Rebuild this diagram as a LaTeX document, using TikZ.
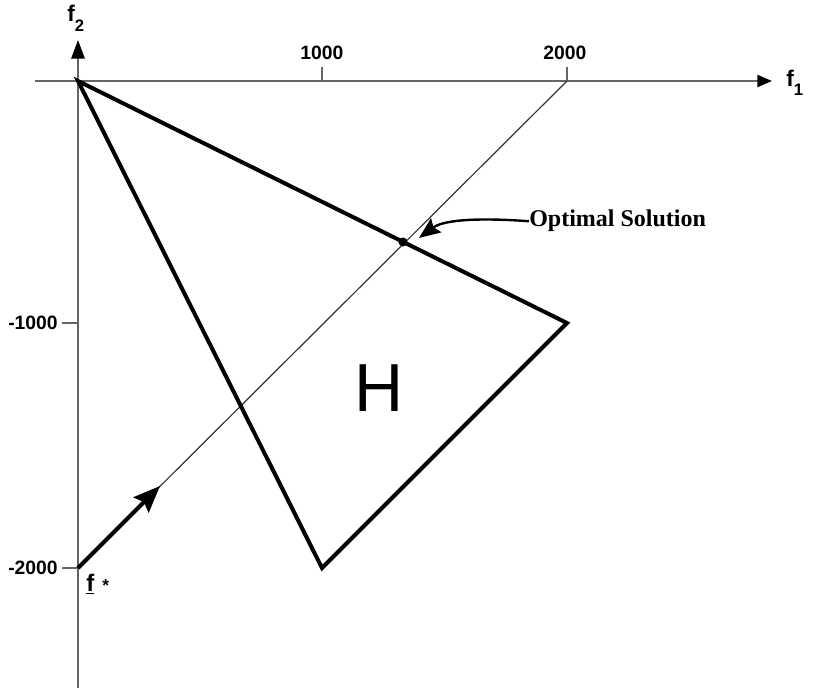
\documentclass[tikz,border=0pt]{standalone}
\usepackage{fontspec}
\setmainfont{Liberation Serif}
\newfontfamily\hv{Liberation Sans}
\usetikzlibrary{arrows.meta}
\begin{document}
\begin{tikzpicture}[x=0.75pt,y=-0.75pt,
  axis/.style={draw=black!60, line width=1.6pt},
  tickmark/.style={draw=black!60, line width=1.4pt},
  edge/.style={draw=black, line width=3pt, line join=miter},
  guide/.style={draw=black!80, line width=0.9pt},
  lab/.style={font=\hv\bfseries\fontsize{14.5}{16}\selectfont, inner sep=0pt},
  sublab/.style={font=\hv\bfseries\fontsize{17}{18}\selectfont, inner sep=0pt}]
\useasboundingbox (0,0) rectangle (815,688);
% points
\coordinate (O) at (78,81);
\coordinate (xs) at (35,81);
\coordinate (xe) at (772,81);
\coordinate (ys) at (78,688);
\coordinate (ye) at (78,40);
\coordinate (A) at (567,323);
\coordinate (B) at (322,568);
\coordinate (F) at (78,568);
\coordinate (T1) at (322,81);
\coordinate (T1a) at (322,67);
\coordinate (T2) at (567,81);
\coordinate (T2a) at (567,67);
\coordinate (M1) at (78,323);
\coordinate (M1a) at (62,323);
\coordinate (M2a) at (62,568);
\coordinate (P) at (403,242);
\coordinate (Q) at (160,486);
\coordinate (Pt) at (419,238);
% axes
\draw[axis, -{Triangle[length=11pt,width=9pt,color=black]}] (xs) -- (xe);
\draw[axis, -{Triangle[length=14pt,width=10pt,color=black]}] (ys) -- (ye);
% ticks
\draw[tickmark] (T1) -- (T1a);
\draw[tickmark] (T2) -- (T2a);
\draw[tickmark] (M1) -- (M1a);
\draw[tickmark] (F) -- (M2a);
% guide line
\draw[guide] (F) -- (T2);
% region H
\draw[edge] (O) -- (A) -- (B) -- cycle;
% optimal point
\fill (P) circle (3.4pt);
% f* arrow
\draw[line width=3pt, -{Stealth[length=20pt,width=16pt,inset=3pt]}] (F) -- (Q);
% labels
\node[lab, anchor=base] (l1000) at (322,60) {1000};
\node[lab, anchor=base] (l2000) at (565,60) {2000};
\node[lab, anchor=east] (lm1000) at (58,323) {-1000};
\node[lab, anchor=east] (lm2000) at (58,568) {-2000};
\node[sublab, anchor=base west] (f2) at (67,22) {f\raisebox{-7pt}{\fontsize{12.5}{13}\selectfont 2}};
\node[sublab, anchor=base west] (f1) at (786,87) {f\raisebox{-6.5pt}{\fontsize{12.5}{13}\selectfont 1}};
\node[sublab, anchor=base west, font=\hv\bfseries\fontsize{18}{19}\selectfont] (fstar) at (86,591) {\underline{f}\hspace{6pt}{\fontsize{13}{13}\selectfont *}};
\node[font=\hv\fontsize{51}{51}\selectfont, inner sep=0pt] (H) at (379,388) {H};
\node[font=\bfseries\fontsize{18}{20}\selectfont, inner sep=0pt, anchor=base west] (os) at (529,227) {Optimal Solution};
% pointer to optimum
\draw[line width=1.8pt, -{Stealth[length=16pt,width=13pt,inset=2.5pt]}] (os.west) .. controls (470,217) and (442,221) .. (Pt);
\end{tikzpicture}
\end{document}
